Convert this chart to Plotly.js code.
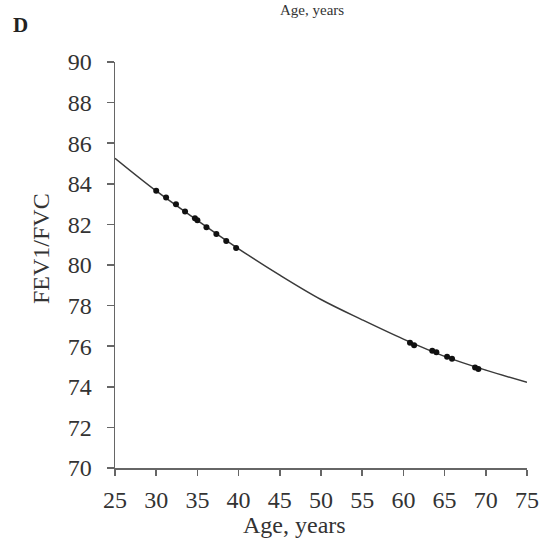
<!DOCTYPE html>
<html>
<head>
<meta charset="utf-8">
<script src="https://cdn.plot.ly/plotly-3.0.1.min.js"></script>
<style>
  html, body { margin: 0; padding: 0; background: #fff; }
  #chart { width: 545px; height: 540px; }
</style>
</head>
<body>
<div id="chart"></div>
<script>
// Fitted curve
const curveAge = [25, 30, 35, 40, 45, 50, 55, 60, 65, 70, 75];
const curveRatio = [85.26, 83.65, 82.2, 80.8, 79.5, 78.3, 77.3, 76.35, 75.5, 74.82, 74.22];

// Observed points (dots on the curve)
const dotAge = [30.0, 31.2, 32.4, 33.5, 34.7, 35.0, 36.1, 37.3, 38.5, 39.7, 60.8, 61.3, 63.5, 64.0, 65.3, 65.9, 68.7, 69.1];
const dotRatio = [83.66, 83.33, 82.99, 82.63, 82.3, 82.2, 81.86, 81.53, 81.18, 80.84, 76.17, 76.05, 75.78, 75.7, 75.48, 75.38, 74.95, 74.88];

const xTicks = [25, 30, 35, 40, 45, 50, 55, 60, 65, 70, 75];
const yTicks = [70, 72, 74, 76, 78, 80, 82, 84, 86, 88, 90];

const serif = 'Liberation Serif, Times New Roman, serif';
const txt = '#333';

const traces = [
  {
    x: curveAge, y: curveRatio, type: 'scatter', mode: 'lines',
    line: { color: '#3a3a3a', width: 1.5, shape: 'spline' },
    hoverinfo: 'skip', showlegend: false
  },
  {
    x: dotAge, y: dotRatio, type: 'scatter', mode: 'markers',
    marker: { color: '#111', size: 6 },
    showlegend: false
  }
];

const layout = {
  width: 545, height: 540,
  margin: { l: 115, r: 18, t: 62, b: 72 },
  paper_bgcolor: '#fff', plot_bgcolor: '#fff',
  font: { family: serif, color: txt, size: 24 },
  showlegend: false,
  xaxis: {
    range: [25, 75], tickvals: xTicks, ticktext: xTicks.map(String),
    showgrid: false, zeroline: false,
    showline: true, linecolor: '#666', linewidth: 1.5,
    ticks: 'outside', ticklen: 6, tickcolor: '#666', tickwidth: 1.5,
    tickfont: { family: serif, size: 24, color: txt },
    ticklabelstandoff: 4
  },
  yaxis: {
    range: [70, 90], tickvals: yTicks, ticktext: yTicks.map(String),
    showgrid: false, zeroline: false,
    showline: true, linecolor: '#666', linewidth: 1.5,
    ticks: 'outside', ticklen: 7, tickcolor: '#666', tickwidth: 1.5,
    tickfont: { family: serif, size: 24, color: txt },
    ticklabelstandoff: 10
  },
  annotations: [
    {
      text: 'Age, years', xref: 'paper', yref: 'paper',
      x: (294 - 115) / 412, y: (468 - 525) / 406, xanchor: 'center', yanchor: 'middle',
      showarrow: false, font: { family: serif, size: 24, color: txt }
    },
    {
      text: 'FEV1/FVC', xref: 'paper', yref: 'paper', textangle: -90,
      x: (41 - 115) / 412, y: (468 - 249) / 406, xanchor: 'center', yanchor: 'middle',
      showarrow: false, font: { family: serif, size: 24, color: txt }
    },
    {
      text: '<b>D</b>', xref: 'paper', yref: 'paper',
      x: (20 - 115) / 412, y: (468 - 25) / 406, xanchor: 'center', yanchor: 'middle',
      showarrow: false, font: { family: serif, size: 21, color: '#222' }
    },
    {
      text: 'Age, years', xref: 'paper', yref: 'paper',
      x: (312 - 115) / 412, y: (468 - 0) / 406, xanchor: 'center', yanchor: 'top',
      showarrow: false, font: { family: serif, size: 15, color: txt }
    }
  ]
};

Plotly.newPlot('chart', traces, layout, { displayModeBar: false, staticPlot: true });
</script>
</body>
</html>
